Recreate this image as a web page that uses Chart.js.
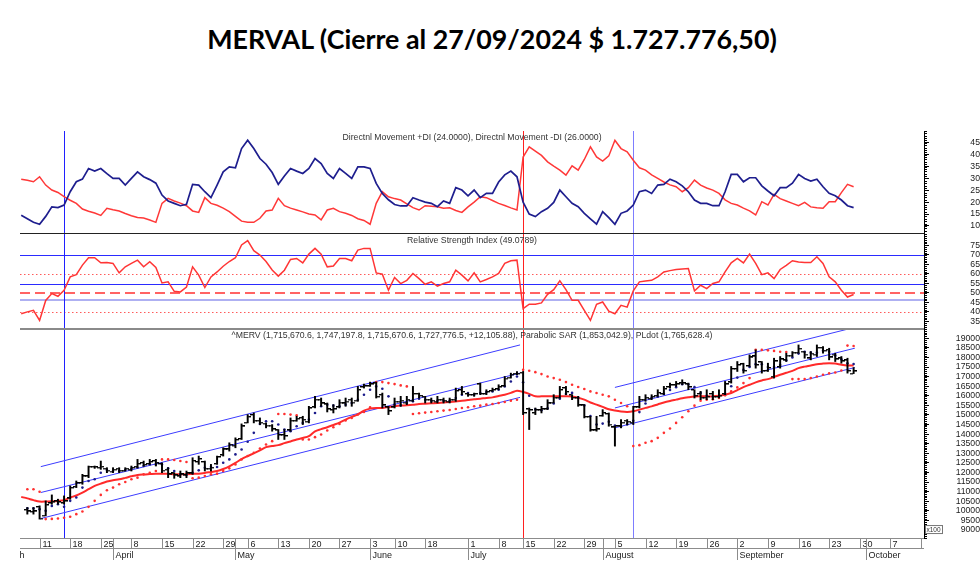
<!DOCTYPE html>
<html><head><meta charset="utf-8">
<script src="https://cdn.jsdelivr.net/npm/chart.js@4.4.1/dist/chart.umd.min.js"></script>
<style>
html,body{margin:0;padding:0;background:#fff;}
body{width:980px;height:578px;position:relative;overflow:hidden;}
#title{position:absolute;left:0;top:23px;width:984px;text-align:center;font-family:Lato,"Open Sans",sans-serif;font-weight:bold;font-size:27px;color:#000;white-space:nowrap;}
canvas{position:absolute;left:0;}
</style></head><body>
<div id="title"><span id="tt">MERVAL (Cierre al 27/09/2024 $ 1.727.776,50)</span></div>
<canvas id="dmi" width="980" height="102" style="top:131px"></canvas>
<canvas id="rsi" width="980" height="95" style="top:233px"></canvas>
<canvas id="px" width="980" height="240" style="top:328px"></canvas>
<script>
// ---------- DATA (one value per trading-day slot, slot 0 = 6 Mar 2024) ----------
const plusDI = [14.5,13,11.5,10.7,14,18,17.7,18.8,24.4,28.6,
 29.7,34.2,33.1,34.2,32,30,30,27.2,30,32.8,
 30.7,29.5,28,23,20.5,19.5,18.5,19.1,27.5,27.2,
 24.4,21.9,27.2,32.8,34.9,34.5,42.6,46.1,42.6,38.4,
 36,32.5,27.5,31,34.2,33.1,32.1,34.2,38.4,36.3,
 32.1,30,34.2,32.1,30,34.9,34.9,34.2,27.9,23.7,
 21,19,18.4,18.4,21.9,20.9,20,19.5,18.1,20.5,
 19.5,26.1,25.1,22.7,25.1,21.9,23.7,23.7,28.5,31.5,
 33.1,30.7,20,15,13.9,16,17.4,19.9,25.1,22.3,
 19.5,18.1,15.3,13,10.7,16,13.5,10.7,15.3,16.3,
 18.8,24.4,25.1,23.7,27.2,27.5,29.7,28.6,26.9,24.4,
 20.9,19.5,19.5,18.5,18.5,24.4,31.7,31.7,28.6,30.3,
 30.3,26.9,24.7,22.7,26.1,26.1,28,31.7,30,28.9,
 29.7,26.5,23.7,22.7,20.9,18.5,17.7];
const minusDI = [29.7,29.2,28.6,30.7,27.2,25.1,24.1,22.3,20.8,19.5,
 17.1,16.2,15.4,14.4,17.4,16.8,16.3,15.2,14.3,13.5,
 13.3,12.5,11.5,19.5,21.6,20.5,19.6,18.5,16.3,15.7,
 21.9,19.5,18.7,17.5,16,14,12,11.5,11.5,13.2,
 16.3,16.7,21.6,18.5,17.5,16.7,15.9,15,14.6,12.5,
 16.7,17.4,16,15.3,14.4,13,12.3,10.7,19.5,24.4,
 22.3,21.5,20.9,19.3,17.7,16.7,18.5,18.3,18.1,17.4,
 17.6,16.5,15.7,18,20,22.3,21.9,20.7,19.5,18.6,
 17.6,16.7,39,43.3,41.5,39.7,37,35.2,33.5,31.4,
 35.3,33.5,38,43.3,39.1,37.3,39.5,46.1,42.6,41.2,
 37.7,34.5,33.5,31.5,30,28.5,27.3,26.5,24.4,26.1,
 29.3,27.2,26,25.1,23.7,21,19.5,18.8,17.5,16.3,
 14.6,20.2,18.8,23.3,21.5,20.5,19.5,18.5,19.9,18,
 17.6,17.4,20.2,20.2,24,27.5,26.5];
const rsi = [39,40,40.8,35.5,46,49.6,48.2,51.4,58.4,59.6,
 64.6,68.5,68.5,65.8,66,65.5,60.5,63.7,65.5,67.2,
 63.7,66.4,63.4,55.2,55.8,50.8,50.5,53.1,63.7,59.3,
 52.8,58.4,61,64,66.5,68.5,75.2,77.5,72.2,69.9,
 66.5,62,58.8,61.9,67.6,68.1,65.8,70.4,73.4,70.4,
 63.7,64.1,68.1,68.1,66.9,72.5,73.4,73.4,60.5,59.8,
 51.4,58.1,54.9,56.6,60.2,57.5,54.5,55.8,53.5,54.9,
 55.8,61.9,59.3,56.3,60.5,55.8,57,58.4,60.2,65.5,
 66.9,67.2,41.7,44,44,44.7,49.2,51.7,56.3,51.7,
 46.1,46.1,40.8,35.5,44,45.2,40.4,39,43.4,42.5,
 51,55.8,56.2,56.6,58.4,61,61.7,62.3,62.6,62.8,
 51,54,52.2,54.9,55.8,61,65.8,68.1,65.8,70.4,
 65.5,59.6,60.5,57.5,62.3,64.5,66.9,66.2,66,66,
 69,65.5,58.4,55.8,51.4,47.8,49.1];
// ^MERV prices in units of x100
const openP = [null,10050,9950,10200,9750,10400,10500,10400,10650,11250,
 11450,11800,12300,12250,12200,12050,12200,12100,12150,12300,
 12500,12450,12600,12450,12150,11950,11800,11850,11950,12550,
 12550,12200,12450,12900,13200,13400,13750,14600,15000,14700,
 14550,14450,14200,13950,14200,14700,14850,14650,15400,15800,
 15550,15250,15400,15600,15800,15750,16450,16500,16650,16050,
 15400,15400,15700,15650,15750,16100,15950,15800,15700,15800,
 15700,15800,16300,16100,16050,16600,16100,16250,16350,16500,
 16950,17150,17200,15300,15100,15250,15300,15650,15900,16400,
 16050,15900,15500,14900,14200,14950,15050,14350,14400,14700,
 14600,15400,15800,15850,16000,16100,16450,16550,16650,16600,
 16300,16100,15900,16100,15950,16100,16700,17400,17650,17550,
 18050,17750,17300,17000,17500,17850,18100,18250,18300,17950,
 18150,18500,18400,18150,17950,17850,17157];
const highP = [null,10175,10175,10262,10521,10832,10608,10780,11300,11559,
 11905,12338,12338,12597,12251,12251,12251,12251,12338,12684,
 12597,12684,12684,12511,12251,11991,12078,12078,12770,12857,
 12597,12424,12857,13289,13549,13808,14535,15019,15105,14846,
 14587,14500,14241,14241,14846,14932,14932,15452,15971,15884,
 15625,15538,15797,15884,15884,16490,16611,16714,16714,16143,
 15452,15884,15971,15971,16490,16143,15971,15884,15971,15884,
 15884,16403,16490,16143,16143,16663,16316,16403,16576,17009,
 17182,17268,17268,15365,15365,15452,15797,16057,16490,16490,
 16057,15971,15538,14932,14932,15278,15105,14413,14759,14759,
 15452,15971,16057,16057,16316,16490,16663,16749,16836,16663,
 16316,16230,16316,16230,16316,16749,17528,17787,17700,18133,
 18393,17787,17700,17960,18047,18219,18306,18652,18306,18306,
 18652,18565,18479,18219,18047,17960,17472];
const lowP = [null,9829,9829,9570,9742,10348,10348,10348,10608,11213,
 11386,11732,12216,12165,11991,11991,11991,12078,12078,12251,
 12338,12424,12338,11991,11732,11697,11732,11732,11905,12424,
 12078,12078,12424,12857,13116,13289,13722,14587,14587,14500,
 14327,14154,13722,13722,14154,14673,14500,14587,15365,15452,
 15157,15105,15365,15452,15452,15711,16403,16490,15884,15365,
 15019,15365,15452,15538,15711,15884,15625,15625,15625,15625,
 15625,15711,16057,15971,15971,16057,16057,16230,16316,16490,
 16922,17095,15019,14240,15019,15105,15278,15625,15884,16057,
 15797,15452,14846,14154,14154,14932,14413,13376,14327,14500,
 14500,15365,15711,15797,15971,16057,16403,16490,16576,16316,
 15884,15797,15797,15797,15884,16057,16663,17268,17182,17528,
 17441,17182,17268,16922,17441,17787,18047,18219,17960,17874,
 18047,18219,17874,17787,17700,17182,17157];
const closeP = [null,9970,9970,9600,10300,10450,10450,10500,11200,11450,
 11800,12300,12280,12300,12100,12150,12100,12200,12250,12450,
 12400,12550,12500,12100,11900,11850,11900,11950,12600,12700,
 12200,12250,12800,13200,13450,13700,14400,14900,14700,14600,
 14450,14250,13950,13900,14700,14800,14750,15350,15800,15600,
 15300,15300,15650,15700,15650,16300,16500,16600,15950,15500,
 15200,15700,15750,15800,16100,16000,15800,15750,15800,15750,
 15800,16250,16200,16050,16100,16100,16200,16300,16450,16900,
 17100,17150,15100,15250,15250,15300,15600,15900,16300,16200,
 15900,15500,14900,14200,14250,15100,14500,14400,14600,14650,
 15400,15800,15900,15950,16150,16350,16550,16600,16650,16450,
 16000,15900,15950,15950,16000,16600,17400,17600,17300,18000,
 17600,17300,17450,17800,17900,18100,18250,18450,18150,18200,
 18500,18350,18000,17900,17800,17300,17278];
const parabolicSAR = [null,11127,11127,11000,9570,9580,9600,9640,9690,9829,
 9967,10210,10521,10832,11075,11213,11386,11507,11645,11732,
 11905,11991,12078,12684,12684,12650,12600,12550,11697,11732,
 11820,11905,11940,12078,12216,12424,12684,12857,13030,13254,
 13462,13635,15054,15054,15019,14984,13722,13722,13843,13981,
 14189,14362,14535,14708,14846,15019,15157,15400,16714,16714,
 16663,16611,16541,16490,15054,15088,15123,15157,15192,15227,
 15261,15313,15365,15400,15452,15486,15538,15573,15625,15676,
 15745,15797,17355,17303,17233,17130,17009,16922,16836,16714,
 16576,16455,16351,16230,16143,16057,15971,15797,15625,15452,
 13376,13427,13549,13635,13808,14068,14292,14587,14880,15192,
 15486,15745,15797,15815,15884,16022,16230,16437,16663,16922,
 18400,18393,18370,18340,18300,18280,16870,16870,16870,16922,
 17009,17100,17170,17217,17320,18618,18600];
const plDot = [null,10140,10140,10090,10000,10260,10348,10210,10521,10694,
 11213,11559,11645,11991,12130,12078,12078,12130,12200,12251,
 12338,12424,12424,12424,12216,12078,11905,11870,11991,12112,
 12251,12286,12286,12510,12684,12943,13202,13600,14068,14535,
 14673,14673,14500,14240,14154,14413,14587,14760,15105,15452,
 15538,15486,15452,15538,15625,15797,16057,16316,16490,16368,
 15971,15538,15503,15625,15711,15850,15797,15745,15745,15745,
 15745,15884,16057,16143,16057,16143,16195,16230,16316,16490,
 16749,17009,16700,16000,15300,15250,15350,15600,15850,16100,
 16150,15900,15500,14950,14500,14550,14650,14450,14400,14500,
 14700,15150,15600,15900,15950,16100,16300,16450,16600,16600,
 16450,16150,16000,15950,15950,16100,16500,16950,17350,17500,
 17650,17650,17500,17500,17600,17850,18000,18200,18300,18250,
 18250,18350,18300,18100,17900,17700,17656];
const redAverage = [10729,10650,10560,10486,10486,10500,10520,10560,10694,10800,
 10954,11130,11300,11420,11530,11600,11645,11720,11800,11870,
 11900,11920,11940,11940,11930,11905,11905,11910,11925,11940,
 11980,12030,12078,12180,12320,12500,12700,12857,13000,13150,
 13324,13380,13428,13530,13620,13722,13800,13895,14150,14260,
 14362,14480,14600,14760,14900,15030,15227,15330,15365,15365,
 15420,15460,15490,15503,15530,15573,15590,15610,15625,15650,
 15670,15700,15740,15780,15820,15850,15890,15918,15990,16057,
 16150,16265,16200,16100,15971,15971,15971,15971,15971,15971,
 15960,15900,15797,15650,15538,15420,15300,15230,15180,15157,
 15192,15278,15370,15450,15550,15650,15730,15800,15870,15920,
 15960,15971,15971,15971,16000,16057,16143,16300,16450,16576,
 16700,16800,16870,16980,17095,17200,17300,17441,17520,17580,
 17649,17680,17700,17680,17620,17580,17580];
// regression channels: [startSlot, startValue, endSlot, endValue]
const channelUpperA = [3.2, 12306, 81.5, 18652];
const channelMidA   = [3.2, 10956, 81.5, 17184];
const channelLowA   = [3.2, 9600, 81.5, 15918];
const channelUpperB = [97, 16437, 136.2, 19570];
const channelMidB   = [97, 15367, 136.2, 18481];
const channelLowB   = [97, 14330, 136.2, 17474];
// vertical marker lines
const markerSlots = [7, 82, 100];
const markerColors = ['#2020ff', '#ff2020', '#7d7dff'];
// RSI reference levels
const rsiBlueLevels = [70, 54.5];
const rsiLightLevels = [46.5];
const rsiDottedLevels = [60, 40];
const rsiDashedLevels = [50];
// axis ticks
const dmiTicks = [10,15,20,25,30,35,40,45];
const rsiTicks = [35,40,45,50,55,60,65,70,75];
const priceTicks = [9000,9500,10000,10500,11000,11500,12000,12500,13000,13500,14000,14500,15000,15500,16000,16500,17000,17500,18000,18500,19000];
const weekTickSlots = [3,8,13,18,23,28,33,37,42,47,52,57,61,66,73,78,82,87,92,97,102,107,112,117,122,127,132,137,142,147];
const weekTickLabels = ['11','18','25','8','15','22','29','6','13','20','27','3','10','18','1','8','15','22','29','5','12','19','26','2','9','16','23','30','7',''];
const monthSlots = [-4, 15, 35, 57, 73, 95, 117, 138];
const monthLabels = ['March','April','May','June','July','August','September','October'];

// ---------- LAYOUT ----------
const X_MIN = -0.2, X_MAX = 147.5;
const AXIS_W = 56, LABEL_RIGHT = 958, TICK_LEN = 5;
const FAM = '"Liberation Sans", Arial, sans-serif';
const TICK_FONT = {family: FAM, size: 8.7};

(function(){ const t=document.getElementById('tt'); const w=t.getBoundingClientRect().width; const fs=27*570/w; document.getElementById('title').style.fontSize=fs+'px'; })();

function measure(txt){ const c=document.createElement('canvas').getContext('2d'); c.font=TICK_FONT.size+'px '+FAM; return c.measureText(txt).width; }
function yAxis(min, max, tickVals, widest){
  const pad = LABEL_RIGHT - (980 - AXIS_W) - TICK_LEN - measure(widest);
  return {
    position:'right', min:min, max:max,
    afterFit(s){ s.width = AXIS_W; s.paddingTop = 0; s.paddingBottom = 0; },
    afterBuildTicks(s){ s.ticks = tickVals.map(v => ({value:v})); },
    grid:{display:true, drawOnChartArea:false, drawTicks:true, tickLength:TICK_LEN, color:'#000', lineWidth:1},
    border:{display:true, color:'#000', width:1},
    ticks:{crossAlign:'far', padding:pad, color:'#222', font:TICK_FONT, autoSkip:false, callback:v => String(v)}
  };
}
const xAxis = {type:'linear', min:X_MIN, max:X_MAX, display:false, offset:false, grid:{offset:false}};
function pts(arr){ const o=[]; arr.forEach((v,i)=>{ if(v!==null) o.push({x:i,y:v}); }); return o; }
function seg(c){ return [{x:c[0],y:c[1]},{x:c[2],y:c[3]}]; }
function line(ctx,x1,y1,x2,y2){ ctx.beginPath(); ctx.moveTo(x1,y1); ctx.lineTo(x2,y2); ctx.stroke(); }

const panelPlugin = {
  id:'panel',
  beforeDatasetsDraw(chart, args, o){
    const ctx=chart.ctx, a=chart.chartArea, x=chart.scales.x, y=chart.scales.y;
    ctx.save();
    ctx.beginPath(); ctx.rect(a.left, a.top, a.right-a.left, a.bottom-a.top); ctx.clip();
    (o.levels||[]).forEach(L => {
      L.values.forEach(v => {
        const py = Math.round(y.getPixelForValue(v)) + (L.width===1 ? 0.5 : 0);
        ctx.strokeStyle=L.color; ctx.lineWidth=L.width; ctx.setLineDash(L.dash||[]);
        line(ctx, a.left, py, a.right, py);
      });
    });
    ctx.setLineDash([]);
    markerSlots.forEach((s,i) => {
      const px = Math.round(x.getPixelForValue(s) - 0.5) + 0.5;
      ctx.strokeStyle=markerColors[i]; ctx.lineWidth=1;
      line(ctx, px, a.top, px, a.bottom);
    });
    ctx.restore();
  },
  afterDraw(chart, args, o){
    const ctx=chart.ctx, a=chart.chartArea, x=chart.scales.x, y=chart.scales.y;
    ctx.save();
    if (o.topBorder){ ctx.strokeStyle=o.topBorder.color; ctx.lineWidth=o.topBorder.width; const ty=a.top+o.topBorder.width/2; line(ctx, a.left, ty, a.right, ty); }
    if (o.minor){
      ctx.strokeStyle='#000'; ctx.lineWidth=1;
      const n0=Math.ceil(y.min/o.minor), n1=Math.floor(y.max/o.minor);
      for(let n=n0;n<=n1;n++){ const py=Math.round(y.getPixelForValue(n*o.minor))+0.5; line(ctx, a.right, py, a.right+3, py); }
    }
    ctx.fillStyle='#333'; ctx.font='8.7px '+FAM; ctx.textAlign='center'; ctx.textBaseline='middle';
    ctx.fillText(o.title, (a.left+a.right)/2, a.top+o.titleOffset);
    if (o.dateRow){
      const top=a.bottom+0.5, mid=a.bottom+10.5, bot=a.bottom+22;
      ctx.strokeStyle='#8c8c8c'; ctx.lineWidth=1;
      line(ctx, a.left, top, a.right, top);
      line(ctx, a.left, mid, a.right, mid);
      ctx.save(); ctx.beginPath(); ctx.rect(a.left, top-1, a.right-a.left, 30); ctx.clip();
      ctx.fillStyle='#222'; ctx.font='9px '+FAM; ctx.textAlign='left'; ctx.textBaseline='alphabetic';
      weekTickSlots.forEach((s,i) => {
        const px=Math.round(x.getPixelForValue(s))+0.5;
        line(ctx, px, top, px, mid);
        ctx.fillText(weekTickLabels[i], px+2, top+8.5);
      });
      monthSlots.forEach((s,i) => {
        const px=Math.round(x.getPixelForValue(s))+0.5;
        line(ctx, px, top, px, bot);
        ctx.fillText(monthLabels[i], px+2, mid+9.5);
      });
      ctx.restore();
      const bx=a.right+1.5, by=y.getPixelForValue(9000)-4.5;
      ctx.fillStyle='#fff'; ctx.fillRect(bx, by, 17, 8);
      ctx.strokeStyle='#777'; ctx.strokeRect(bx, by, 17, 8);
      ctx.fillStyle='#333'; ctx.font='6.5px '+FAM; ctx.textAlign='left'; ctx.textBaseline='middle';
      ctx.fillText('x100', bx+1, by+4.2);
    }
    ctx.restore();
  }
};

const baseOpts = {
  responsive:false, animation:false, events:[], devicePixelRatio:1,
  layout:{autoPadding:false, padding:{left:20, right:0, top:0, bottom:0}}
};

new Chart(document.getElementById('dmi'), {
  type:'line',
  data:{datasets:[
    {data:pts(plusDI), borderColor:'#1e1e8e', borderWidth:1.7, pointRadius:0, tension:0},
    {data:pts(minusDI), borderColor:'#ff3838', borderWidth:1.5, pointRadius:0, tension:0}
  ]},
  options:Object.assign({}, baseOpts, {
    scales:{x:xAxis, y:yAxis(7, 50, dmiTicks, '45')},
    plugins:{legend:{display:false}, tooltip:{enabled:false},
      panel:{title:'Directnl Movement +DI (24.0000), Directnl Movement -DI (26.0000)', titleOffset:7, minor:1}}
  }),
  plugins:[panelPlugin]
});

new Chart(document.getElementById('rsi'), {
  type:'line',
  data:{datasets:[
    {data:pts(rsi), borderColor:'#ff3535', borderWidth:1.5, pointRadius:0, tension:0}
  ]},
  options:Object.assign({}, baseOpts, {
    scales:{x:xAxis, y:yAxis(31.5, 81.5, rsiTicks, '75')},
    plugins:{legend:{display:false}, tooltip:{enabled:false},
      panel:{title:'Relative Strength Index (49.0789)', titleOffset:8, minor:1,
        topBorder:{color:'#222', width:1},
        levels:[
          {values:rsiLightLevels, color:'#aeb0f2', width:2},
          {values:rsiBlueLevels, color:'#2b2bff', width:1},
          {values:rsiDottedLevels, color:'#ff5a5a', width:1, dash:[1.5,2.5]},
          {values:rsiDashedLevels, color:'#ff3030', width:1.5, dash:[10,5]}
        ]}}
  }),
  plugins:[panelPlugin]
});

function tickImg(left){ const c=document.createElement('canvas'); c.width=7; c.height=2; const g=c.getContext('2d'); g.fillStyle='#000'; if(left) g.fillRect(0,0,3,1.4); else g.fillRect(4,0,3,1.4); return c; }
const rangeData = []; highP.forEach((h,i)=>{ if(h!==null) rangeData.push({x:i, y:[lowP[i], h]}); });
new Chart(document.getElementById('px'), {
  type:'line',
  data:{datasets:[
    {type:'bar', data:rangeData, backgroundColor:'#000', borderWidth:0, barThickness:1.3, grouped:false},
    {data:pts(openP), showLine:false, pointStyle:tickImg(true), pointRadius:3},
    {data:pts(closeP), showLine:false, pointStyle:tickImg(false), pointRadius:3},
    {data:pts(plDot), showLine:false, pointStyle:'circle', pointRadius:1.3, pointBorderWidth:0, pointBackgroundColor:'#1b1b8a'},
    {data:pts(parabolicSAR), showLine:false, pointStyle:'circle', pointRadius:1.3, pointBorderWidth:0, pointBackgroundColor:'#ff3030'},
    {data:pts(redAverage), borderColor:'#ff2a2a', borderWidth:2, pointRadius:0, tension:0.3},
    {data:seg(channelUpperA), borderColor:'#3c3cff', borderWidth:1, pointRadius:0},
    {data:seg(channelMidA), borderColor:'#3c3cff', borderWidth:1, pointRadius:0},
    {data:seg(channelLowA), borderColor:'#3c3cff', borderWidth:1, pointRadius:0},
    {data:seg(channelUpperB), borderColor:'#3c3cff', borderWidth:1, pointRadius:0},
    {data:seg(channelMidB), borderColor:'#3c3cff', borderWidth:1, pointRadius:0},
    {data:seg(channelLowB), borderColor:'#3c3cff', borderWidth:1, pointRadius:0}
  ]},
  options:Object.assign({}, baseOpts, {
    layout:{autoPadding:false, padding:{left:20, right:0, top:0, bottom:30}},
    scales:{x:xAxis, y:yAxis(8585, 19535, priceTicks, '19000')},
    plugins:{legend:{display:false}, tooltip:{enabled:false},
      panel:{title:'^MERV (1,715,670.6, 1,747,197.8, 1,715,670.6, 1,727,776.5, +12,105.88), Parabolic SAR (1,853,042.9), PLdot (1,765,628.4)',
        titleOffset:8, minor:100, topBorder:{color:'#8a8a8a', width:2}, dateRow:true}}
  }),
  plugins:[panelPlugin]
});
</script>
</body></html>
